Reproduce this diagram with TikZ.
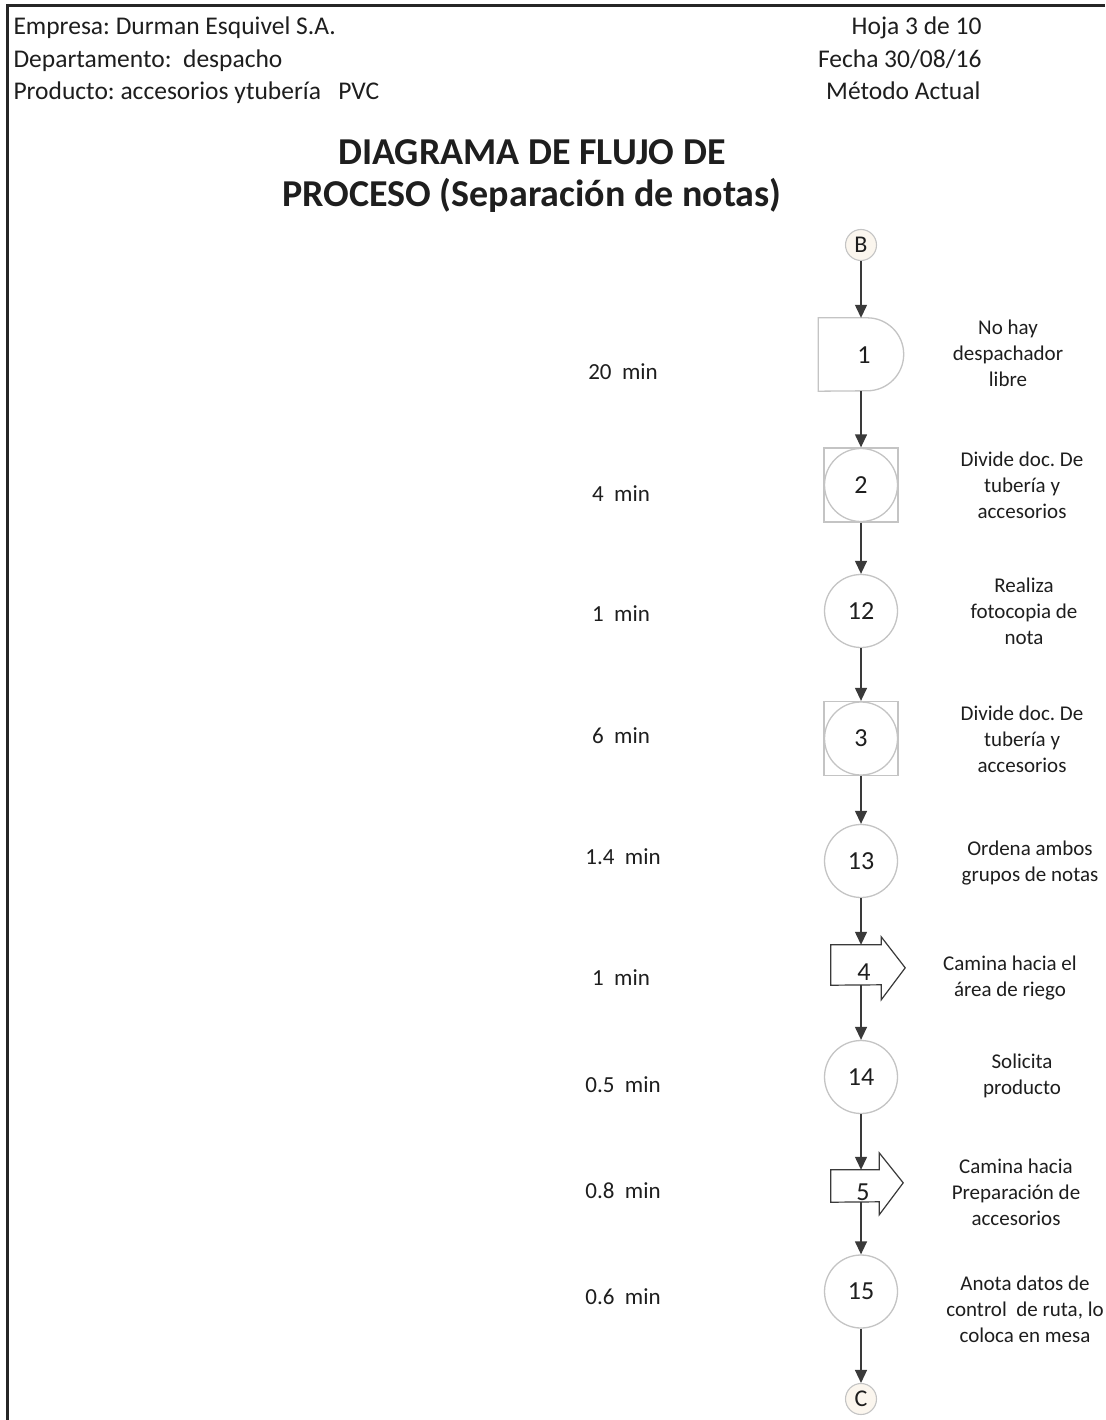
\documentclass[tikz,border=0pt]{standalone}
\usepackage{fontspec}
\setmainfont{Carlito}
\frenchspacing
\usetikzlibrary{arrows.meta,calc}

\definecolor{linecol}{HTML}{3A3A3A}
\definecolor{shapegray}{HTML}{C4C4C4}
\definecolor{connfill}{HTML}{FBF6EE}
\definecolor{txt}{HTML}{1E1E1E}

\begin{document}
\begin{tikzpicture}[x=1pt,y=-1pt,
  every node/.style={text=txt},
  flow/.style={draw=linecol, line width=1.3pt, -{Triangle[width=12pt,length=13pt]}},
  opcirc/.style={circle, draw=shapegray, line width=1.3pt, fill=white, minimum size=73pt, inner sep=0pt, font=\fontsize{26}{28}\selectfont},
  opsquare/.style={rectangle, draw=shapegray, line width=1.3pt, minimum size=74pt, inner sep=0pt},
  conn/.style={circle, draw=shapegray, line width=1.1pt, fill=connfill, minimum size=31pt, inner sep=0pt, font=\fontsize{24}{26}\selectfont},
  body/.style={rectangle, inner sep=0pt},
  numtxt/.style={font=\fontsize{26}{28}\selectfont},
  outlinegray/.style={draw=shapegray, line width=1.3pt, fill=white},
  outlinedark/.style={draw=linecol, line width=1.2pt, fill=white},
  timelbl/.style={font=\fontsize{23}{26}\selectfont},
  desc/.style={align=center, font=\fontsize{21}{26}\selectfont},
  hdr/.style={font=\fontsize{25.5}{28}\selectfont},
  ttl/.style={font=\fontsize{38}{43}\selectfont\bfseries},
]
% page and frame
\useasboundingbox (0,0) rectangle (1105,1420);
\fill[white] (0,0) rectangle (1105,1420);
\draw[line width=3pt, black!85] (1105,5.5) -- (7.5,5.5) -- (7.5,1420);

% header block
\node[hdr, anchor=base west] (empresa) at (10,35) {Empresa: Durman Esquivel S.A.};
\node[hdr, anchor=base west] (depto) at (10,68) {Departamento:\ \ despacho};
\node[hdr, anchor=base west] (prod) at (10,100) {Producto: accesorios ytubería\ \ \ PVC};
\node[hdr, anchor=base east] (hoja) at (985,35) {Hoja 3 de 10};
\node[hdr, anchor=base east] (fecha) at (985,68) {Fecha 30/08/16};
\node[hdr, anchor=base east] (metodo) at (984,100) {Método Actual};

% title
\node[ttl, anchor=base] (title1) at (532,165) {DIAGRAMA DE FLUJO DE};
\node[ttl, anchor=base] (title2) at (532,207) {PROCESO (Separación de notas)};

% start connector
\node[conn] (B) at (861,245) {B};

% 1: delay
\node[body, minimum width=85pt, minimum height=73pt] (n1) at (861,354.5) {};
\draw[outlinegray] (n1.north west) -- ($(n1.north east)+(-36.5,0)$) arc(-90:90:36.5) -- (n1.south west) -- cycle;
\node[numtxt] (n1lbl) at (864,355) {1};

% 2: combined operation/inspection
\node[opsquare] (n2sq) at (861,485) {};
\node[opcirc] (n2) at (n2sq) {2};

% 12: operation
\node[opcirc] (n12) at (861,611) {12};

% 3: combined operation/inspection
\node[opsquare] (n3sq) at (861,738.5) {};
\node[opcirc] (n3) at (n3sq) {3};

% 13: operation
\node[opcirc] (n13) at (861,861) {13};

% 4: transport
\node[body, minimum width=50pt, minimum height=40pt] (n4) at (856,965) {};
\draw[outlinedark] (n4.south west) -- (n4.north west) -- (n4.north east)
  -- ++(0,-8) -- ++(24,31) -- ++(-24,32) -- ++(0,-15) -- cycle;
\node[numtxt] (n4lbl) at (864,972) {4};

% 14: operation
\node[opcirc] (n14) at (861,1077) {14};

% 5: transport
\node[body, minimum width=48pt, minimum height=32pt] (n5) at (855,1186) {};
\draw[outlinedark] (n5.south west) -- (n5.north west) -- (n5.north east)
  -- ++(0,-17) -- ++(24,30) -- ++(-24,32) -- ++(0,-13) -- cycle;
\node[numtxt] (n5lbl) at (863,1192) {5};

% 15: operation
\node[opcirc] (n15) at (861,1291.5) {15};

% end connector
\node[conn] (C) at (861,1399) {C};

% flow connectors
\draw[flow] (B.south) -- (n1.north);
\draw[flow] (n1.south) -- (n2sq.north);
\draw[flow] (n2sq.south) -- (n12.north);
\draw[flow] (n12.south) -- (n3sq.north);
\draw[flow] (n3sq.south) -- (n13.north);
\draw[flow] (n13.south) -- (n13.south |- n4.north);
\draw[flow] (n13.south |- n4.south) -- (n14.north);
\draw[flow] (n14.south) -- (n14.south |- n5.north);
\draw[flow] (n14.south |- n5.south) -- (n15.north);
\draw[flow] (n15.south) -- (C.north);

% durations
\node[timelbl] (t1) at (623,372) {20~~min};
\node[timelbl] (t2) at (621,494) {4~~min};
\node[timelbl] (t12) at (621,614) {1~~min};
\node[timelbl] (t3) at (621,736) {6~~min};
\node[timelbl] (t13) at (623,857) {1.4~~min};
\node[timelbl] (t4) at (621,978) {1~~min};
\node[timelbl] (t14) at (623,1085) {0.5~~min};
\node[timelbl] (t5) at (623,1191) {0.8~~min};
\node[timelbl] (t15) at (623,1297) {0.6~~min};

% step descriptions
\node[desc] (d1) at (1008,353.5) {No hay\\despachador\\libre};
\node[desc] (d2) at (1022,485.5) {Divide doc. De\\tubería y\\accesorios};
\node[desc] (d12) at (1024,611) {Realiza\\fotocopia de\\nota};
\node[desc] (d3) at (1022,739) {Divide doc. De\\tubería y\\accesorios};
\node[desc] (d13) at (1030,863) {Ordena ambos\\grupos de notas};
\node[desc] (d4) at (1010,978) {Camina hacia el\\área de riego};
\node[desc] (d14) at (1022,1076) {Solicita\\producto};
\node[desc] (d5) at (1016,1192) {Camina hacia\\Preparación de\\accesorios};
\node[desc] (d15) at (1025,1309) {Anota datos de\\control\ \ de ruta, lo\\coloca en mesa};
\end{tikzpicture}
\end{document}
